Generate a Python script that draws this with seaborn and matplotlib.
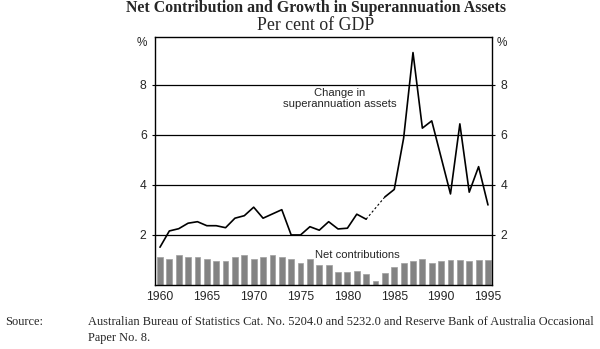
import numpy as np
import pandas as pd
import matplotlib
matplotlib.use("Agg")
import matplotlib.pyplot as plt
import seaborn as sns

years = list(range(1960, 1996))
net_contributions = [1.13, 1.05, 1.20, 1.13, 1.13, 1.03, 0.97, 0.95, 1.13, 1.20,
                     1.03, 1.13, 1.20, 1.13, 1.03, 0.87, 1.03, 0.80, 0.80, 0.50,
                     0.53, 0.57, 0.43, 0.17, 0.47, 0.73, 0.87, 0.97, 1.04, 0.87,
                     0.95, 0.99, 1.01, 0.95, 1.01, 1.01]
change_assets = [1.51, 2.16, 2.25, 2.47, 2.53, 2.37, 2.37, 2.29, 2.67, 2.77,
                 3.11, 2.67, 2.84, 3.01, 2.00, 2.00, 2.33, 2.19, 2.53, 2.24,
                 2.27, 2.83, 2.63, np.nan, 3.52, 3.82, 5.87, 9.29, 6.27, 6.56,
                 5.10, 3.64, 6.44, 3.71, 4.73, 3.20]
y_ticks = [2, 4, 6, 8]
x_ticks = [1960, 1965, 1970, 1975, 1980, 1985, 1990, 1995]

sns.set_style("white")
plt.rcParams['font.family'] = ['Liberation Sans', 'DejaVu Sans']

df = pd.DataFrame({"year": years, "net": net_contributions, "chg": change_assets})

fig = plt.figure(figsize=(6.0, 3.49), dpi=100)
ax = fig.add_axes([155/600, 1-285/349, (492-155)/600, (285-37.3)/349])

sns.barplot(data=df, x="year", y="net", native_scale=True, width=0.62,
            color="#838383", saturation=1, edgecolor="#a0a0a0", linewidth=0.5, ax=ax)

solid1 = df[df.year <= 1982]
solid2 = df[df.year >= 1984]
gap = df[(df.year >= 1982) & (df.year <= 1984)].dropna()
sns.lineplot(data=solid1, x="year", y="chg", color="black", lw=1.2, estimator=None, ax=ax)
sns.lineplot(data=solid2, x="year", y="chg", color="black", lw=1.2, estimator=None, ax=ax)
sns.lineplot(data=gap, x="year", y="chg", color="black", lw=0.8, estimator=None,
             linestyle=(0, (2, 2)), ax=ax)

for v in y_ticks:
    ax.axhline(v, color="black", lw=0.9, zorder=0.5)

ax.set_xlim(1959.47, 1995.43)
ax.set_ylim(0, 9.9)
ax.set_xticks(x_ticks)
ax.set_xticklabels([str(x) for x in x_ticks])
ax.set_yticks(y_ticks)
ax.set_yticklabels([str(v) for v in y_ticks])
ax.set_xlabel("")
ax.set_ylabel("")
ax.tick_params(axis="both", labelsize=8.7, length=2, width=0.8, color="black", pad=2)
ax.tick_params(axis="y", left=True, right=True, labelleft=True, labelright=True, pad=4)
ax.tick_params(axis="x", bottom=False)
for s in ax.spines.values():
    s.set_visible(True)
    s.set_color("black")
    s.set_linewidth(1.0)

ax.text(-0.025, 0.975, "%", transform=ax.transAxes, ha="right", va="center", fontsize=8.5)
ax.text(1.015, 0.975, "%", transform=ax.transAxes, ha="left", va="center", fontsize=8.5)

ax.text(1979.2, 7.45, "Change in\nsuperannuation assets", ha="center", va="center",
        fontsize=8.1, linespacing=1.05)
ax.text(1981.1, 1.2, "Net contributions", ha="center", va="center", fontsize=8.1)

fig.text(316/600, 1-8/349, "Net Contribution and Growth in Superannuation Assets",
         ha="center", va="center", fontsize=11.4, fontweight="bold",
         family=["Liberation Serif", "DejaVu Serif"])
fig.text(316/600, 1-26/349, "Per cent of GDP", ha="center", va="center",
         fontsize=12.8, family=["Liberation Serif", "DejaVu Serif"])

fig.text(5/600, 1-322/349, "Source:", ha="left", va="center", fontsize=8.9,
         family=["Liberation Serif", "DejaVu Serif"])
fig.text(88/600, 1-322/349,
         "Australian Bureau of Statistics Cat. No. 5204.0 and 5232.0 and Reserve Bank of Australia Occasional",
         ha="left", va="center", fontsize=8.9, family=["Liberation Serif", "DejaVu Serif"])
fig.text(88/600, 1-338.5/349, "Paper No. 8.", ha="left", va="center", fontsize=8.9,
         family=["Liberation Serif", "DejaVu Serif"])

fig.savefig("out.png", dpi=100)
